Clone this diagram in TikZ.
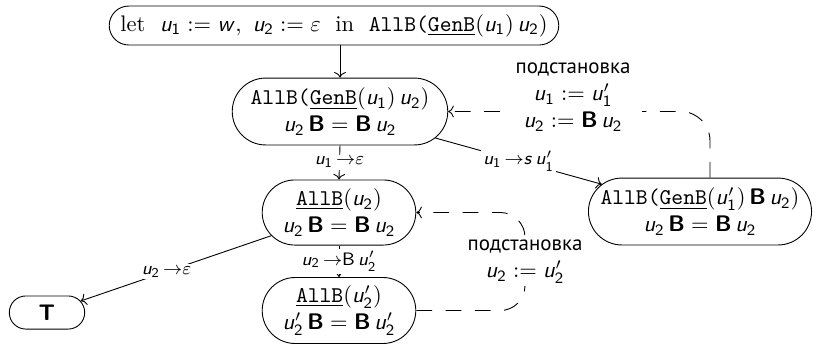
\documentclass[tikz,border=0pt]{standalone}
\usepackage{fontspec}
\newfontfamily\cyrsans{PT Sans}
\usetikzlibrary{shapes.misc,arrows.meta}
% sans-serif slanted and bold letters for the variables and the letter B
\DeclareMathAlphabet{\mathssl}{OT1}{cmss}{m}{sl}
\DeclareMathAlphabet{\mathsbx}{OT1}{cmss}{bx}{n}
\newcommand\vU{\mathssl{u}}
\newcommand\vW{\mathssl{w}}
\newcommand\vS{\mathssl{s}}
\newcommand\sB{\mathsbx{B}}
\newcommand\uu[1]{\vU_{\mathsf{#1}}}
\newcommand\uup[1]{\vU'_{\mathsf{#1}}}
\newcommand\tw[1]{\texttt{#1}}
\newcommand\utw[1]{\underline{\texttt{#1}}}
\newcommand\gap{\hskip 6.5pt\relax}
% rewriting arrow used in the transition labels
\newcommand\rw{\,{\to}}
\newcommand\subsword{{\cyrsans\fontsize{9.3}{11}\selectfont подстановка}}

\begin{document}
\begin{tikzpicture}[x=0.444pt,y=-0.444pt,
  state/.style={draw, rounded rectangle, align=center, inner sep=1pt},
  edgelbl/.style={fill=white, inner sep=1pt, font=\footnotesize},
  subst/.style={fill=white, inner sep=2pt, align=center},
  flow/.style={->},
  back/.style={->, dash pattern=on 7pt off 6pt},
]
\useasboundingbox (0,0) rectangle (827,344);

% states
\node[state, minimum width=201.6pt, minimum height=17.3pt] (top) at (334,25.5)
  {let\gap $\uu1 := \vW,\ \uu2 := \varepsilon$\gap in\gap \tw{AllB(}\utw{GenB}$(\uu1)\,\uu2)$};
\node[state, minimum width=97.7pt, minimum height=29.7pt] (A) at (340,111.5)
  {\tw{AllB(}\utw{GenB}$(\uu1)\,\uu2)$\\ $\uu2\,\sB = \sB\,\uu2$};
\node[state, minimum width=97.7pt, minimum height=29.7pt] (B) at (700,211.5)
  {\tw{AllB(}\utw{GenB}$(\uup1)\,\sB\,\uu2)$\\ $\uu2\,\sB = \sB\,\uu2$};
\node[state, minimum width=70.2pt, minimum height=28.9pt] (C) at (339,212.5)
  {\utw{AllB}$(\uu2)$\\ $\uu2\,\sB = \sB\,\uu2$};
\node[state, minimum width=70.2pt, minimum height=29.3pt] (D) at (339,310.5)
  {\utw{AllB}$(\uup2)$\\ $\uup2\,\sB = \sB\,\uup2$};
\node[state, minimum width=35.5pt, minimum height=14.7pt] (T) at (47,312.5)
  {$\mathsbx{T}$};

% forward transitions
\draw[flow] (top.south -| A.north) -- (A.north);
\draw[flow] (A.south) -- node[edgelbl] {$\uu1\rw\varepsilon$} (C.north);
\draw[flow] (A) -- node[edgelbl] {$\uu1\rw\vS\,\uup1$} (B);
\draw[flow] (C.south) -- node[edgelbl] {$\uu2\rw\mathsf{B}\,\uup2$} (D.north);
\draw[flow] (C) -- node[edgelbl, pos=0.55] {$\uu2\rw\varepsilon$} (T);

% substitutions back
\coordinate (k1) at (710,110);
\coordinate (k2) at (525,262);
\draw[back, rounded corners=13pt] (B.north -| k1) |- (A.east);
\draw[back, rounded corners=11pt] (D.east) -| (k2) |- (C.east);
\node[subst, inner xsep=5pt] (s1) at (573,97)
  {\subsword\\ $\uu1 := \uup1$\\ $\uu2 := \sB\,\uu2$};
\node[subst, inner sep=1pt] (s2) at (k2)
  {\subsword\\ $\uu2 := \uup2$};
\end{tikzpicture}
\end{document}
